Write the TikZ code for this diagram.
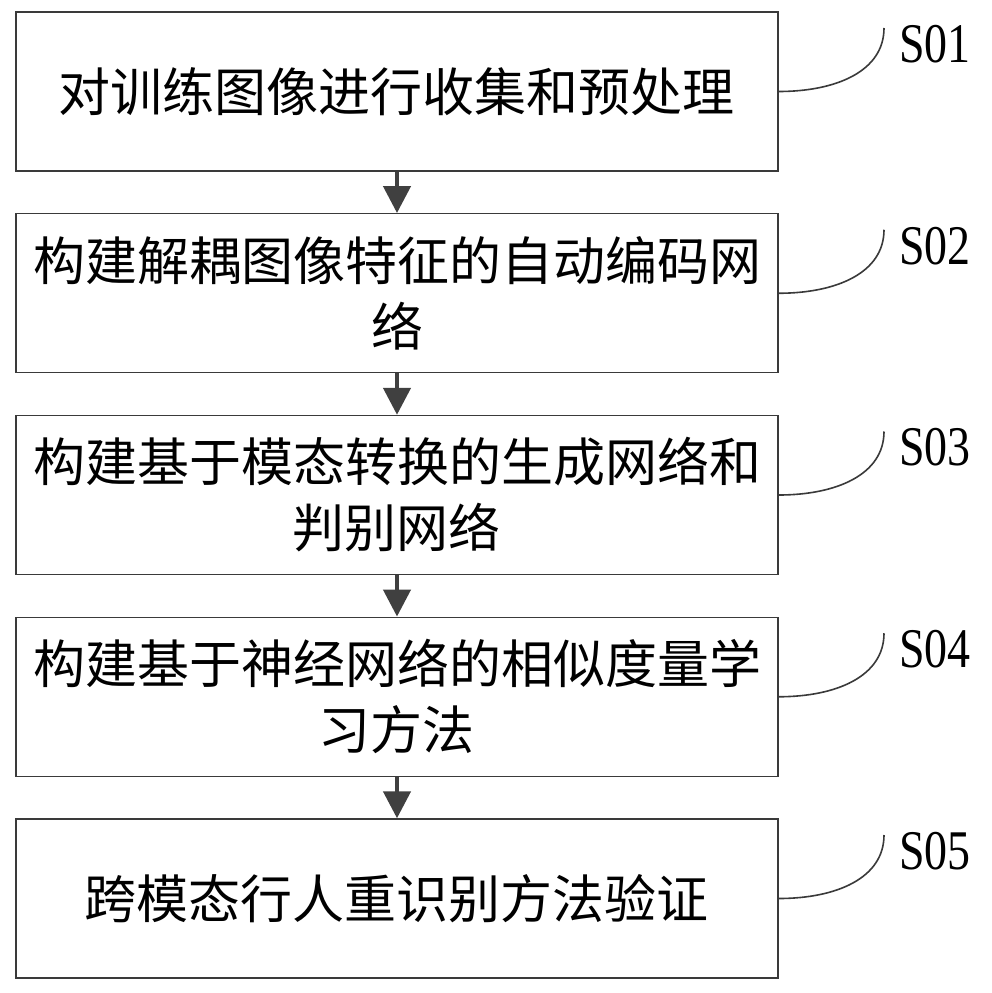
\documentclass[tikz,border=0pt]{standalone}
\usepackage{fontspec}
\newfontfamily\cjk{Noto Sans CJK SC}
\newfontfamily\lbl[FakeStretch=0.82]{Liberation Serif}
\usetikzlibrary{arrows.meta}
\definecolor{boxline}{HTML}{3A3A3A}
\definecolor{arrowc}{HTML}{404040}
\begin{document}
\begin{tikzpicture}[x=1pt,y=-1pt,
  stepbox/.style={draw=boxline, line width=1.4pt, minimum width=762pt, minimum height=159pt,
    inner sep=0pt, text width=740pt, align=center, font=\cjk\fontsize{52}{66}\selectfont},
  flow/.style={draw=arrowc, line width=4.5pt, -{Triangle[width=27pt,length=27pt]}},
  leader/.style={draw=boxline, line width=1.6pt},
  steplabel/.style={anchor=west, inner sep=0pt, font=\lbl\fontsize{56}{56}\selectfont}]
\useasboundingbox (0,0) rectangle (991,993);
\fill[white] (0,0) rectangle (991,993);

\node[stepbox] (b1) at (397,91.5) {对训练图像进行收集和预处理};
\node[stepbox] (b2) at (397,293.25) {构建解耦图像特征的自动编码网\\络};
\node[stepbox] (b3) at (397,495) {构建基于模态转换的生成网络和\\判别网络};
\node[stepbox] (b4) at (397,696.75) {构建基于神经网络的相似度量学\\习方法};
\node[stepbox] (b5) at (397,898.5) {跨模态行人重识别方法验证};

\draw[flow] (b1.south) -- (b2.north);
\draw[flow] (b2.south) -- (b3.north);
\draw[flow] (b3.south) -- (b4.north);
\draw[flow] (b4.south) -- (b5.north);

\foreach \i/\cy in {1/91.5,2/293.25,3/495,4/696.75,5/898.5}{
  \coordinate (e\i) at (884,\cy-63.5);
  \node[steplabel] (s\i) at (899,\cy-47.5) {S0\i};
  \draw[leader] (b\i.east) .. controls +(57,0) and (884,\cy-20) .. (e\i);
}
\end{tikzpicture}
\end{document}
